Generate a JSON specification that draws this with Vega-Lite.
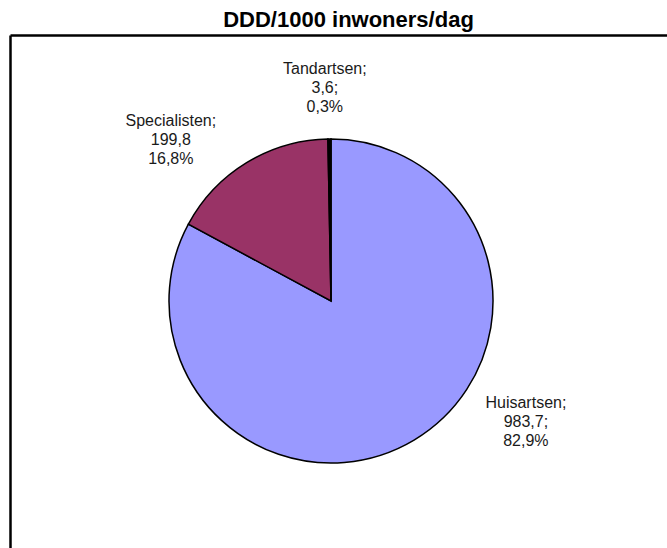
{
  "$schema": "https://vega.github.io/schema/vega-lite/v6.json",
  "width": 657,
  "height": 513,
  "autosize": {"type": "none"},
  "padding": {"left": 10, "top": 35, "right": 0, "bottom": 0},
  "background": "white",
  "view": {"stroke": null, "fill": "white"},
  "config": {
    "text": {"font": "Liberation Sans", "fontSize": 16, "color": "#1a1a1a", "align": "center", "baseline": "middle", "lineHeight": 19, "lineBreak": "\n"},
    "axis": {"domain": true, "domainColor": "#000000", "domainWidth": 2.5, "ticks": false, "labels": false, "grid": false, "title": null}
  },
  "title": {
    "text": "DDD/1000 inwoners/dag",
    "font": "Liberation Sans",
    "fontSize": 22,
    "fontWeight": "bold",
    "color": "#000000",
    "anchor": "middle",
    "frame": "group",
    "dx": 10,
    "offset": 0
  },
  "data": {
    "values": [
      {"categorie": "Huisartsen", "ddd": 983.7, "volgorde": 1, "label": "Huisartsen;\n983,7;\n82,9%"},
      {"categorie": "Specialisten", "ddd": 199.8, "volgorde": 2, "label": "Specialisten;\n199,8\n16,8%"},
      {"categorie": "Tandartsen", "ddd": 3.6, "volgorde": 3, "label": "Tandartsen;\n3,6;\n0,3%"}
    ]
  },
  "layer": [
    {
      "mark": {"type": "point", "opacity": 0},
      "encoding": {
        "x": {"field": "ddd", "type": "quantitative", "axis": {"orient": "top"}},
        "y": {"field": "volgorde", "type": "quantitative", "axis": {"orient": "left"}}
      }
    },
    {
      "mark": {"type": "arc", "outerRadius": 162, "stroke": "#000000", "strokeWidth": 1.5, "xOffset": -7.5, "yOffset": 9.5},
      "encoding": {
        "theta": {"field": "ddd", "type": "quantitative", "stack": true},
        "order": {"field": "volgorde", "type": "quantitative"},
        "color": {
          "field": "categorie",
          "type": "nominal",
          "scale": {"domain": ["Huisartsen", "Specialisten", "Tandartsen"], "range": ["#9999FF", "#993366", "#000000"]},
          "legend": null
        }
      }
    },
    {
      "mark": {"type": "text", "radius": 150, "xOffset": -7.5, "yOffset": 9.5, "dx": 118, "dy": -27},
      "encoding": {
        "theta": {"field": "ddd", "type": "quantitative", "stack": true},
        "order": {"field": "volgorde", "type": "quantitative"},
        "text": {"condition": {"test": "datum.categorie === 'Huisartsen'", "field": "label"}, "value": ""}
      }
    },
    {
      "mark": {"type": "text", "radius": 225, "xOffset": -7.5, "yOffset": 9.5, "dx": -43, "dy": 12},
      "encoding": {
        "theta": {"field": "ddd", "type": "quantitative", "stack": true},
        "order": {"field": "volgorde", "type": "quantitative"},
        "text": {"condition": {"test": "datum.categorie === 'Specialisten'", "field": "label"}, "value": ""}
      }
    },
    {
      "mark": {"type": "text", "radius": 225, "xOffset": -7.5, "yOffset": 9.5, "dx": -4, "dy": -7},
      "encoding": {
        "theta": {"field": "ddd", "type": "quantitative", "stack": true},
        "order": {"field": "volgorde", "type": "quantitative"},
        "text": {"condition": {"test": "datum.categorie === 'Tandartsen'", "field": "label"}, "value": ""}
      }
    }
  ]
}
